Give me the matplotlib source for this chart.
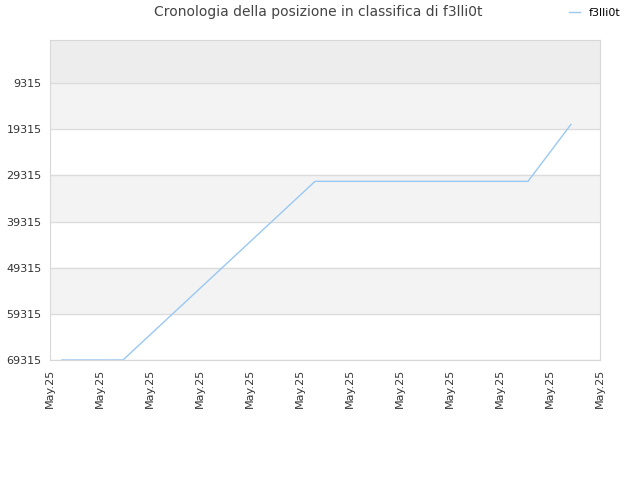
import matplotlib
matplotlib.use("Agg")
from matplotlib import pyplot as plt

tick_labels = ["May.25"] * 12
y_ticks = [9315, 19315, 29315, 39315, 49315, 59315, 69315]

# corner points of the rank history (x in tick units)
pos_x = [0.24, 1.46, 5.3, 9.56, 10.42]
pos_y = [69315, 69315, 30600, 30600, 18250]

fig = plt.figure(figsize=(6.4, 4.8), dpi=100)
ax = fig.add_axes([50 / 640, 1 - 360 / 480, 550 / 640, 320 / 480])

ax.set_xlim(0, 11)
ax.set_ylim(69315, -35)

# alternating bands
ax.axhspan(-35, 9315, color="#ededed", zorder=0)
band_colors = ["#f3f3f3", "#ffffff"]
for i in range(len(y_ticks) - 1):
    ax.axhspan(y_ticks[i], y_ticks[i + 1], color=band_colors[i % 2], zorder=0)
for t in y_ticks:
    ax.axhline(t, color="#dcdcdc", lw=1, zorder=1)

ax.plot(pos_x, pos_y, color="#99c8f5", lw=1, label="f3lli0t", zorder=3)

ax.set_yticks(y_ticks)
ax.set_yticklabels([str(t) for t in y_ticks], fontsize=8, color="#333333")
ax.set_xticks(range(12))
ax.set_xticklabels(tick_labels, rotation=90, fontsize=8, color="#333333")
ax.tick_params(length=0, pad=6)
for s in ax.spines.values():
    s.set_color("#d8d8d8")

fig.suptitle("Cronologia della posizione in classifica di f3lli0t",
             x=318 / 640, y=1 - 12 / 480, va="center", fontsize=10, color="#444444")
fig.legend(loc="center", bbox_to_anchor=(595 / 640, 1 - 13 / 480), frameon=False,
           fontsize=8, handlelength=1, handletextpad=0.8)

fig.savefig("out.png", dpi=100)
